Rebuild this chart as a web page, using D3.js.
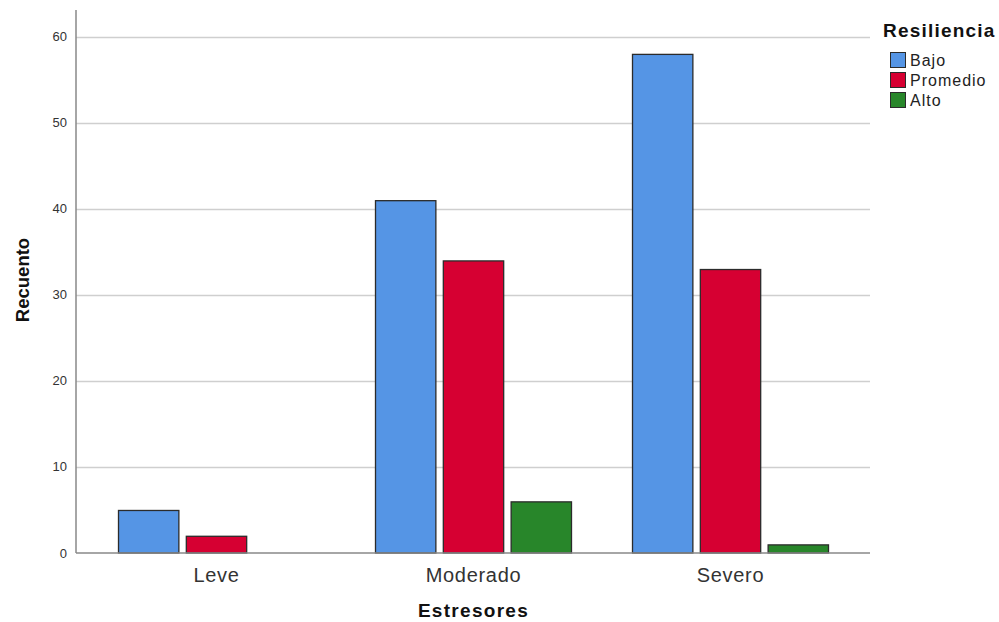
<!DOCTYPE html>
<html>
<head>
<meta charset="utf-8">
<script src="https://cdn.jsdelivr.net/npm/d3@7"></script>
<style>
  body { margin: 0; background: #fff; }
  svg { display: block; font-family: Arial, "Liberation Sans", sans-serif; }
</style>
</head>
<body>
<svg id="chart" width="999" height="622"></svg>
<script>
const categories = ["Leve", "Moderado", "Severo"];
const seriesNames = ["Bajo", "Promedio", "Alto"];
const bajo = [5, 41, 58];
const promedio = [2, 34, 33];
const alto = [0, 6, 1];
const yTicks = [0, 10, 20, 30, 40, 50, 60];
const colors = ["#5595e5", "#d60032", "#28862a"];

const seriesValues = [bajo, promedio, alto];

const svg = d3.select("#chart");
const plotLeft = 76, plotRight = 870, plotTop = 10, plotBottom = 553;

const y = d3.scaleLinear().domain([0, 63.1]).range([plotBottom, plotTop]);
const x = d3.scalePoint().domain(categories).range([216.5, 730.5]);
const xs = d3.scaleBand().domain(seriesNames).range([-98.5, 98.5]).paddingInner(0.095).paddingOuter(0);

// gridlines
svg.append("g").selectAll("line").data(yTicks.filter(d => d > 0)).join("line")
  .attr("x1", plotLeft).attr("x2", plotRight)
  .attr("y1", d => Math.round(y(d)) + 0.5).attr("y2", d => Math.round(y(d)) + 0.5)
  .attr("stroke", "#cfcfcf").attr("stroke-width", 1.5);

// y tick labels
svg.append("g").selectAll("text").data(yTicks).join("text")
  .attr("x", 67).attr("y", d => y(d)).attr("dy", "0.35em")
  .attr("text-anchor", "end").attr("font-size", 13).attr("fill", "#333")
  .text(d => d);

// bars
const data = [];
categories.forEach((c, ci) => {
  seriesNames.forEach((s, si) => {
    data.push({ cat: c, ser: s, v: seriesValues[si][ci], color: colors[si] });
  });
});
svg.append("g").selectAll("rect").data(data.filter(d => d.v > 0)).join("rect")
  .attr("x", d => x(d.cat) + xs(d.ser) + 0.5)
  .attr("y", d => y(d.v) + 0.5)
  .attr("width", xs.bandwidth() - 1)
  .attr("height", d => y(0) - y(d.v) - 0.5)
  .attr("fill", d => d.color)
  .attr("stroke", "#2b2b2b").attr("stroke-width", 1.3);

// axes lines
svg.append("line").attr("x1", plotLeft).attr("x2", plotLeft)
  .attr("y1", plotTop).attr("y2", plotBottom)
  .attr("stroke", "#888").attr("stroke-width", 1.5);
svg.append("line").attr("x1", plotLeft).attr("x2", plotRight)
  .attr("y1", plotBottom).attr("y2", plotBottom)
  .attr("stroke", "#888").attr("stroke-width", 1.5);

// x labels
svg.append("g").selectAll("text").data(categories).join("text")
  .attr("x", d => x(d)).attr("y", 582)
  .attr("text-anchor", "middle").attr("font-size", 20).attr("letter-spacing", 0.7).attr("fill", "#333")
  .text(d => d);

// axis titles
svg.append("text").attr("x", 473.5).attr("y", 617)
  .attr("text-anchor", "middle").attr("font-size", 19).attr("letter-spacing", 1.3).attr("font-weight", "bold").attr("fill", "#111")
  .text("Estresores");
svg.append("text").attr("transform", "translate(29,280) rotate(-90)")
  .attr("text-anchor", "middle").attr("font-size", 18.5).attr("font-weight", "bold").attr("fill", "#111")
  .text("Recuento");

// legend
svg.append("text").attr("x", 883).attr("y", 37)
  .attr("font-size", 19).attr("letter-spacing", 1.2).attr("font-weight", "bold").attr("fill", "#111")
  .text("Resiliencia");
const leg = svg.append("g").selectAll("g").data(seriesNames).join("g")
  .attr("transform", (d, i) => `translate(890,${52 + i * 20})`);
leg.append("rect").attr("x", 0.5).attr("y", 0.5).attr("width", 15).attr("height", 15)
  .attr("fill", (d, i) => colors[i]).attr("stroke", "#2b2b2b").attr("stroke-width", 1);
leg.append("text").attr("x", 20).attr("y", 8).attr("dy", "0.35em")
  .attr("font-size", 16).attr("letter-spacing", 1).attr("fill", "#222").text(d => d);
</script>
</body>
</html>
